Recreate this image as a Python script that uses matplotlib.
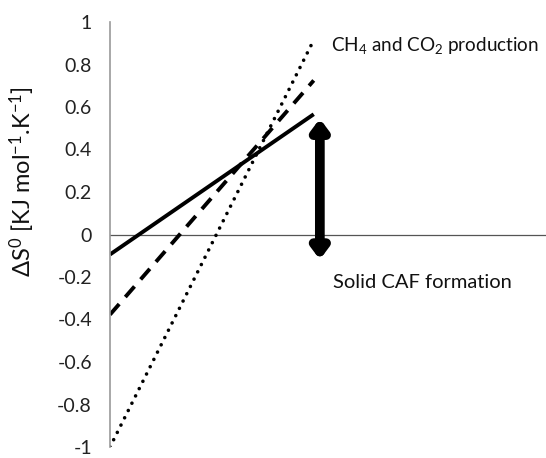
import matplotlib
matplotlib.use("Agg")
import matplotlib.pyplot as plt

plt.rcParams['font.family'] = ['Lato', 'DejaVu Sans']
plt.rcParams['mathtext.default'] = 'regular'

# two end points of each straight line
x_pts = [0, 1]
solid_vals = [-0.094, 0.566]
dashed_vals = [-0.377, 0.725]
dotted_vals = [-1.0, 0.915]

y_ticks = [-1, -0.8, -0.6, -0.4, -0.2, 0, 0.2, 0.4, 0.6, 0.8, 1]
y_tick_labels = ['-1', '-0.8', '-0.6', '-0.4', '-0.2', '0', '0.2', '0.4', '0.6', '0.8', '1']

arrow_x = 1.03
arrow_top = 0.545
arrow_bottom = -0.118

fig = plt.figure(figsize=(5.46, 4.58), dpi=100)
ax = fig.add_axes([110/546, 11/458, 436/546, 425/458])

ax.plot(x_pts, solid_vals, color='black', lw=2.8, solid_capstyle='butt')
ax.plot(x_pts, dashed_vals, color='black', lw=2.8, linestyle=(0, (3.6, 2.4)))
ax.plot(x_pts, dotted_vals, color='black', lw=2.6, linestyle=(0, (0.01, 2.25)),
        dash_capstyle='round')

ax.axhline(0, color='#555555', lw=0.9, zorder=1)

ax.annotate('', xy=(arrow_x, arrow_top), xytext=(arrow_x, arrow_bottom),
            arrowprops=dict(arrowstyle='<|-|>,head_length=0.6,head_width=0.45',
                            color='black', lw=7, shrinkA=0, shrinkB=0))

ax.text(1.085, 0.89, 'CH$_4$ and CO$_2$ production', fontsize=13.6, va='center', ha='left',
        color='#111111')
ax.text(1.095, -0.226, 'Solid CAF formation', fontsize=14.5, va='center', ha='left',
        color='#111111')

ax.set_xlim(0, 2.14)
ax.set_ylim(-1, 1)
ax.set_yticks(y_ticks)
ax.set_yticklabels(y_tick_labels, fontsize=14, color='#222222')
ax.tick_params(axis='y', length=0, pad=13)
ax.set_xticks([])

for s in ['top', 'right', 'bottom']:
    ax.spines[s].set_visible(False)
ax.spines['left'].set_color('#999999')
ax.spines['left'].set_linewidth(1.2)

fig.text(22/546, 1 - 182/458, 'ΔS$^0$ [KJ mol$^{-1}$.K$^{-1}$]', rotation=90,
         fontsize=17, ha='center', va='center', color='#111111')

fig.savefig('out.png', dpi=100)
